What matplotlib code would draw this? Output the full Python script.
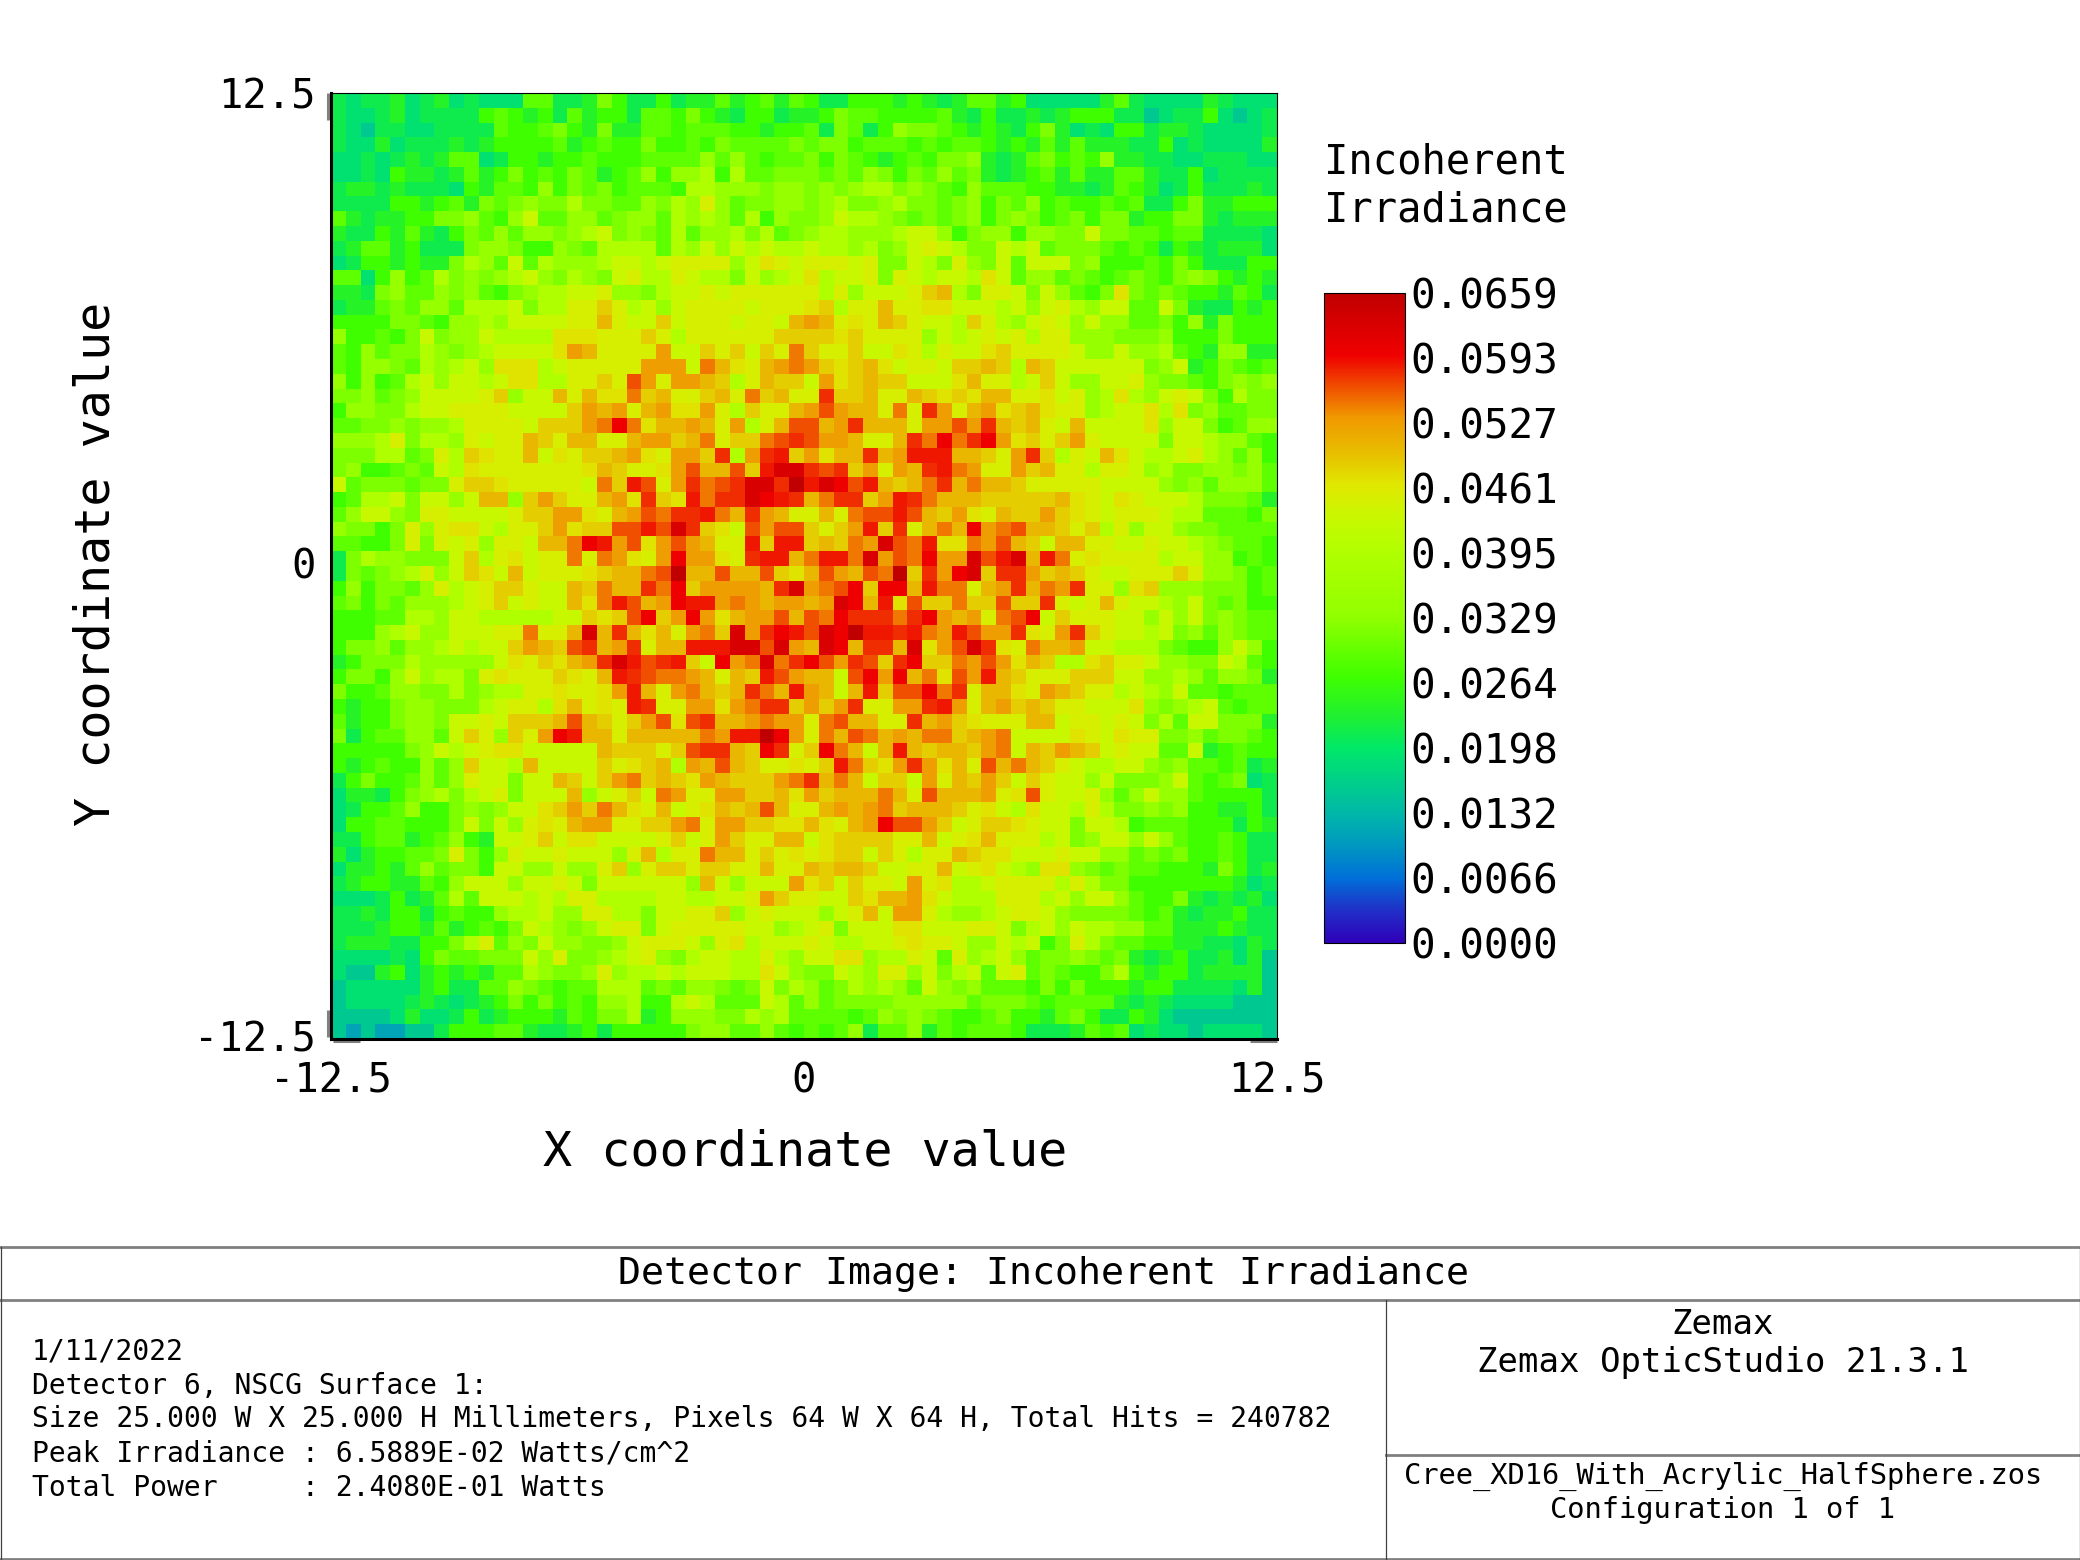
import numpy as np
import matplotlib
matplotlib.use('Agg')
import matplotlib.pyplot as plt
from matplotlib.colors import LinearSegmentedColormap
from matplotlib.transforms import ScaledTranslation

plt.rcParams['font.family'] = ['DejaVu Sans Mono']

# Lectura de cada celda del detector: una letra por nivel de color (fila superior primero)
levels = {'z': .0112, 'a': .0155, 'b': .0188, 'c': .0214, 'd': .0237, 'e': .0270, 'f': .0293,
          'g': .0316, 'h': .0343, 'i': .0395, 'j': .0431, 'k': .0451, 'l': .0468, 'm': .0484,
          'n': .0504, 'o': .0527, 'p': .0547, 'q': .0563, 'r': .0577, 's': .0586, 't': .0596,
          'u': .0626, 'v': .0659}

rows = [
    'cbccdbcd bcbbbffc cdgeccec ddfdefdf ecceeede dcdffdeb bbbbdfcb bbbdcbbb',
    'cbbcdbcc ccefedec fdeecffe gedceecd degffeee efdceccd cdeeecca bccebabc',
    'cbaccbbc cccfeefg edgddffe fffeedee fcgfcehg gfededce gdbcbeec ddcbbbbc',
    'cbbdbccc dcdeeeef defeegee fegffffg fggefffe feffeded fdfdddcc ebcbbbbd',
    'bbcbcdcd ffbceede efeeefff fhfhfeff gegfedef egghdcdf gefehddc cbbcccbb',
    'bbcbeddc dfdegefe gfdefheh hieiffgg gfgfhgeg fhfgdcde fdfddffd ccebcccc',
    'cddcdccc bedffehe gfgefffe iihhhghh ghghiigh gfehfffe eddcdfed bcecccdc',
    'cccceede fdgfghgg iggffhgi hkhfgghh ghigghig gfghegfh efeefefc cegddeee',
    'fdcddeeg ghfehjff hhfghhfi hihfiehg ghjiihgf gfgheghg efgeggde eggdcddd',
    'dccedfdc egfhfhhg hijghgfi fhhigifg hiihhhij jheghheh hggjggff effccccb',
    'cdffdecc cghhgeeh gfiiiifi hjhjijii jiihighj kjiggjij fgggfefe cedcdddb',
    'bceededd gihfjfih hhijjijk kkkhjlkj kkkjkggj igkhgjfj jjgheeef egecccee',
    'ffbehefi ghghijhg ihgjkiik jiigjhij lijjkgkj ijjiljfh hfgfefgf eghgeded',
    'ddcghffh ghfeghii jjkhhgij jkjkkkkk kikhjjjk mnigkkjg jhfeglgf gfeedfec',
    'cddfgfhh fiiijgii kkmkijhj kkkkjkkk lmikknkk lljjjijh jkihjjff jgdccede',
    'eeeeggfe hhihjjjj kknkjjmj kkkjkkjn onklknmk jjimkihj kjhjhhff gehdgeee',
    'heefegjg hhjiiiil llkkkmki kkkkkkmm mmlmkkkk hjijkjki kkhhhggg heeegeee',
    'fehfggih ghijjjjl onkkkkoj jmkmjmkp mkkmjjlk ikjjlmkk kkjhhjhh ifedhhdd',
    'fehhgfih ijhlllij kkkkkooo jpnlknop omlmnljk kjmmnmin mjjjjjjg hjdegfef',
    'hehefijh jjijllii kkmkqoko onmiknmm jolmnmmj jjlnkkij mjhhjjkh ggfeghgh',
    'gghfghjj jjkmhjjn knllpmnk kmnkpmnk krmmnkkn mlmlnnkk ljkhilih jkjgeigg',
    'ehhggijj kkkkjjjj monoknol lokimkkn oqonnkpk roknolmn lkkhijjl ilghffgg',
    'ffgghghh ikkkkjmm moptplnn onkoiknq qnornnnk ooqornmn kjnjjjjl hjjgefhh',
    'hhhikgii hkjkknmk nnkknoom npkmmpqr qoonkknr ptprtolm kmokjjjj gjjihhfe',
    'gggiifgk imlkknjl kmmnolko omriorsm olnnrnos ssnnmkor mikjnlji ijkihfhe',
    'gheefgfj ilkkkkkk klnmkklo qnnqmsuu rqrmokon rspokkom nkkikkjh igghhghf',
    'jfgggfgg kmmlkkkk kjpmsqko rpqruurv sutqsnmn prnpnnmk kkkkjjjj hghfhhhf',
    'efiijgjj hjnnhmom kknolrml sprrutsr nprrmosr pnnnmmmm mnlkjlkj jjigggfd',
    'fhjjhgkk jjjjkmmo olknoqpr rspnronk knkpqqsq nmolknmm omlkjkkk jiifffeg',
    'hggegkhk lljikkmo lmmqqsqu rmljqoqq mkmosmrk npntopqn nmkmikhj jhggffff',
    'ffeegkgk jkhkkjnn ptsoqloq onkksmss mnmpouqp sllpoqnm jnnkkjjk jjihgffe',
    'cgihhggg jmikljkk pkpolkot oolkrssn psspuoqp toouqsun spklkkkk ijjhhefe',
    'cgfghikh jmljnjkk klmnnpqv nnqnnqml nqonqpvm rotumrro mnmkjjkk kmkhhgef',
    'eheggfhk ijkmmkjj nmpnnrpt moooonru opqtmttn sppknorn porkkhlm hhhgggef',
    'fgegfhhh ijkmjkjj nlpsqnot ssoponoo noutnslq mmpmmqmm rkjknkjj ihjgfgee',
    'eeeffiih jjiiiiij jmlmqtmo tolnooqn qptrrrpr tonokpqt jmkkkjjh jhjghgff',
    'eeehijhh jjjkkpkk nunrnlnk opmuorts qutvssrs posqoorl kormkjji jghfhgff',
    'egghfhhi jijjmonm qrnorknn sssuuquo nutnrrnu loqurlkp nnojjiii gfeehjhe',
    'degggihh hhhjlkml norusqrs mjtopupr tqorqmrt mmpoqoln miilmkkj hhggjife',
    'eggehjhi igklkkkm lknsrqpp onknmsqo nnjqtotn plqosnmk kkmmmjjh hihfhhgd',
    'geefhhgg ighiikkl kklosnko pnmnrpns onjnsmqq tprknnlk onmkkiji hjffefff',
    'edeeghhg ggijkkil nklksrkk ooloprrm omorkkoo rsoknomn mkkjjjlh ghijfeff',
    'fdeeghhg jjkjmmmn qnmkmoql qrnnopoo kpqnnkkr nomlkkkn njkkjkjg ifjjgggd',
    'gceffhhf jmkhmkot snnknnnn npossvto kpnqpnon ppmnopjj jjlkjlkk gghfggfe',
    'eeeeeghj ijklljjj jjnmmmkm qrrnmtrk mtpnjnsn mnnmopjn monmjkjj ffjdefee',
    'edefeehf hmjjinjj jjmklmni onqnmkkl kmspmlor olnkqnpn mkjiijjh ghffefcd',
    'cegeefhf hkjjgjjn mjmopmnm lonmmmop rnpnjmmj oknmomjm kjjhjggg hjfefgbc',
    'bddceghi gijkgjjj nhjkmjpo kkoommnl omnnnpnk qnnnoklq kjjkhfhj hhfeeeec',
    'bceefhee ghghjjlm ompnlknj klnmnqnk knonopmn nnmkljil jjikiggh gheeddec',
    'beeffeee gjgjhklk nookkmmo pkoommll nlknotqq omjkmmlk jjgjjief ffeeeced',
    'cceffdef hedjjkmj lljjjjkm jkomkknn jlmmmmkk njklnkkk ijghjjhj hfeefecc',
    'dbdeeffg kgehkjjk jjjhknik kpnnkmkl klmmjmki kknmlljj jkjjhhfg fgeefecc',
    'bddedfhf ggejjhhj hhkmhkmm kmmkknkk nmnnmjjk knjkljih llhgfgff eeedgecd',
    'cdeeddfe hjjjhjjk jgjjjjjj hnjhjjjo lmjmkkjo kliijkkk kikiggee eeeeedbc',
    'bbbcecdf ifjjjiji kkiiiijj iijjkomk kjjmlnno ljiiikkk ijhjjhfe egdcdcdb',
    'ccdceece feehiijh hkkiigjj kkmhjkjj jhjknjoo kihhijkk jhggggfe fdcddecc',
    'cccdeedf defegjih ghjkkgjk kkkkjjhi jkgjjjll jjjkkjgi jhjiihhf fdddedcc',
    'cdddccee gikfhgjh hgghjkkk jhklijjj kjiijjkl kkjhhjij egkigffe eddccbdc',
    'bbbbcbeg ffgggjhk gghijkhg ijjiikih jjllhiik jfkhijhf gghgfgdc deccdbda',
    'baadebde dedffihg ghkhiiji jjjiiljh ggjihkkh jgijfjkf gfeegied eecdddda',
    'abbbbbde ccffhgfe ffiiifgf hhgfgjgi hfgihihf jhghfffe gegeeede eccccbda',
    'abbbbcdc bcdegege fehhieei jifffjif hfgggghh hhhfgggf effffdcd cbbbbaaa',
    'aaaabdbb cecdeeed feggideh hhggihif fffefhgh gfeefgee dfgecced baaaaaaa',
    'azazzaac eeeffdcc deceeeee ghhffhfe fefhcffh dfefffec ccdfefbc bbabbbba',
]

tick_labels = ['-12.5', '0', '12.5']
tick_values = [-12.5, 0, 12.5]
minor_values = [-10, -7.5, -5, -2.5, 2.5, 5, 7.5, 10]
cbar_ticks = [0.0, 0.0066, 0.0132, 0.0198, 0.0264, 0.0329, 0.0395, 0.0461, 0.0527, 0.0593, 0.0659]
cbar_stops = [0, .05, .1, .15, .2, .25, .3, .35, .41, .5, .6, .654, .705, .757, .81, .905, 1]
cbar_colors = ['#3000b8', '#2030c8', '#0070d8', '#0098c0', '#00b8a8', '#00d088', '#00e868', '#20f030',
               '#40ff00', '#90ff00', '#b0ff00', '#c8f800', '#e0e800', '#e8bc00', '#f09800', '#f00000',
               '#c00000']

info_lines = ['1/11/2022',
              'Detector 6, NSCG Surface 1:',
              'Size 25.000 W X 25.000 H Millimeters, Pixels 64 W X 64 H, Total Hits = 240782',
              'Peak Irradiance : 6.5889E-02 Watts/cm^2',
              'Total Power     : 2.4080E-01 Watts']
info_y = [1352, 1386, 1419, 1453, 1488]

data = np.array([[levels[ch] for ch in row.replace(' ', '')] for row in rows])
print(data.shape)

W, H = 2080, 1560
fig = plt.figure(figsize=(20.8, 15.6), dpi=100)


def box(x0, y0, x1, y1):
    return [x0 / W, 1 - y1 / H, (x1 - x0) / W, (y1 - y0) / H]


# Capa de fondo en pixeles para el cuadro de texto
bg = fig.add_axes([0, 0, 1, 1])
bg.set_xlim(0, W)
bg.set_ylim(H, 0)
bg.axis('off')

grey = '#808080'
bg.plot([0, W], [1247, 1247], color=grey, lw=2)
bg.plot([0, W], [1300, 1300], color=grey, lw=2)
bg.plot([1386, W], [1455, 1455], color=grey, lw=2)
bg.plot([0, W], [1559, 1559], color=grey, lw=2)
bg.plot([1386, 1386], [1300, 1560], color='#404040', lw=0.9)
bg.plot([0.5, 0.5], [1247, 1560], color='#404040', lw=0.9)
bg.plot([2079.5, 2079.5], [1247, 1560], color='#404040', lw=0.9)

bg.text(1043, 1273.5, 'Detector Image: Incoherent Irradiance', fontsize=27.5, ha='center', va='center')
for line, y in zip(info_lines, info_y):
    bg.text(32, y, line, fontsize=20.15, ha='left', va='center')
bg.text(1723, 1324.5, 'Zemax', fontsize=24.5, ha='center', va='center')
bg.text(1723, 1362.5, 'Zemax OpticStudio 21.3.1', fontsize=24.5, ha='center', va='center')
bg.text(1723, 1476, 'Cree_XD16_With_Acrylic_HalfSphere.zos', fontsize=20.7, ha='center', va='center')
bg.text(1723, 1510.5, 'Configuration 1 of 1', fontsize=20.7, ha='center', va='center')

bg.text(1324, 163, 'Incoherent', fontsize=29.2, ha='left', va='center')
bg.text(1324, 211, 'Irradiance', fontsize=29.2, ha='left', va='center')

# Marcas grises de las esquinas
bg.plot([328, 328], [93, 120], color=grey, lw=2.2, solid_capstyle='butt')
bg.plot([328, 328], [1010, 1037], color=grey, lw=2.2, solid_capstyle='butt')
bg.plot([333, 360], [1041, 1041], color=grey, lw=2.2, solid_capstyle='butt')
bg.plot([1250, 1277], [1041, 1041], color=grey, lw=2.2, solid_capstyle='butt')

# Mapa del detector
cmap = LinearSegmentedColormap.from_list('zemax', list(zip(cbar_stops, cbar_colors)), N=512)
ax = fig.add_axes(box(331, 93, 1277, 1039))
im = ax.imshow(data, cmap=cmap, vmin=0, vmax=0.0659, origin='upper', interpolation='nearest',
               extent=[-12.5, 12.5, -12.5, 12.5], aspect='auto')
ax.set_xticks(tick_values, tick_labels, fontsize=29.2)
ax.set_yticks(tick_values, tick_labels, fontsize=29.2)
ax.set_xticks(minor_values, minor=True)
ax.set_yticks(minor_values, minor=True)
ax.tick_params(axis='both', which='major', length=0)
ax.tick_params(axis='x', which='major', pad=16.5)
ax.tick_params(axis='y', which='major', pad=11)
ax.tick_params(axis='both', which='minor', length=2.5, width=1, color='white', direction='out')
for side in ['left', 'bottom']:
    ax.spines[side].set_linewidth(2.2)
for side in ['top', 'right']:
    ax.spines[side].set_linewidth(0.8)

# las etiquetas -12.5 y 0 van un poco mas arriba
for lbl in ax.get_yticklabels()[:2]:
    lbl.set_transform(lbl.get_transform() + ScaledTranslation(0, 0.03, fig.dpi_scale_trans))

bg.text(805, 1151.5, 'X coordinate value', fontsize=34.8, ha='center', va='center')
bg.text(96, 564, 'Y coordinate value', fontsize=34.8, rotation=90, ha='center', va='center')

# Barra de color
cax = fig.add_axes(box(1324, 293, 1405, 943))
cbar = fig.colorbar(im, cax=cax, ticks=cbar_ticks)
cbar.ax.set_yticklabels(['%.4f' % t for t in cbar_ticks], fontsize=29.5)
cbar.ax.tick_params(length=0, pad=4)
cbar.outline.set_linewidth(0.8)

fig.savefig('out.png', dpi=100)
